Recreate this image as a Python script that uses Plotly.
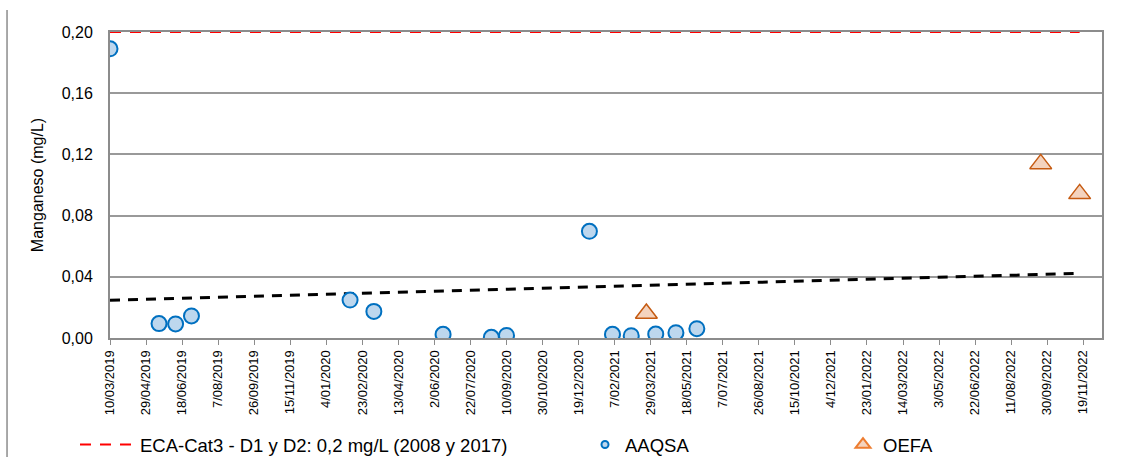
import numpy as np
import pandas as pd
import plotly.graph_objects as go

# ---- data ----
aaqsa_dates = ["2019-03-10", "2019-05-17", "2019-06-09", "2019-07-01", "2020-02-06",
               "2020-03-10", "2020-06-14", "2020-08-20", "2020-09-10", "2021-01-03",
               "2021-02-04", "2021-03-02", "2021-04-05", "2021-05-03", "2021-06-01"]
aaqsa_values = [0.189, 0.0094, 0.0092, 0.0144, 0.0248,
                0.0174, 0.0024, 0.0005, 0.0017, 0.0697,
                0.0024, 0.0015, 0.0026, 0.0035, 0.0061]

oefa_dates = ["2021-03-23", "2022-09-21", "2022-11-14"]
oefa_values = [0.016, 0.1138, 0.0942]

eca_limit = 0.2
eca_name = "ECA-Cat3 - D1 y D2: 0,2 mg/L (2008 y 2017)"

tick_labels = ["10/03/2019", "29/04/2019", "18/06/2019", "7/08/2019", "26/09/2019",
               "15/11/2019", "4/01/2020", "23/02/2020", "13/04/2020", "2/06/2020",
               "22/07/2020", "10/09/2020", "30/10/2020", "19/12/2020", "7/02/2021",
               "29/03/2021", "18/05/2021", "7/07/2021", "26/08/2021", "15/10/2021",
               "4/12/2021", "23/01/2022", "14/03/2022", "3/05/2022", "22/06/2022",
               "11/08/2022", "30/09/2022", "19/11/2022"]
x_range = ["2019-03-10", "2022-12-15"]
y_ticks = [0.00, 0.04, 0.08, 0.12, 0.16, 0.20]

# ---- derived ----
tick_vals = pd.to_datetime(tick_labels, format="%d/%m/%Y")
a_dt = pd.to_datetime(aaqsa_dates)
o_dt = pd.to_datetime(oefa_dates)
all_dt = a_dt.append(o_dt)
all_v = np.array(aaqsa_values + oefa_values)
t0 = all_dt.min()
days = np.array((all_dt - t0).days, dtype=float)
slope, intercept = np.polyfit(days, all_v, 1)
trend_x = [all_dt.min(), all_dt.max()]
trend_y = [intercept + slope * (d - t0).days for d in trend_x]

FONT = "Liberation Sans, Arial, sans-serif"
BLUE_FILL = "#BDD7EE"
BLUE_LINE = "#0070C0"
OR_FILL = "#F4D3BE"
OR_LINE = "#C55A11"
GRID = "#999999"

fig = go.Figure()

fig.add_trace(go.Scatter(
    x=trend_x, y=trend_y, mode="lines",
    line=dict(color="black", width=3, dash="10px,8px"),
    showlegend=False, hoverinfo="skip"))

fig.add_trace(go.Scatter(
    x=[all_dt.min(), all_dt.max()], y=[eca_limit, eca_limit], mode="lines",
    name=eca_name, line=dict(color="#FF0000", width=2, dash="11px,9px"),
    showlegend=True, legend="legend"))

fig.add_trace(go.Scatter(
    x=a_dt, y=aaqsa_values, mode="markers", name="AAQSA",
    marker=dict(symbol="circle", size=15, color=BLUE_FILL,
                line=dict(color=BLUE_LINE, width=2)),
    showlegend=False, legendgroup="a"))
fig.add_trace(go.Scatter(
    x=[None], y=[None], mode="markers", name="AAQSA",
    marker=dict(symbol="circle", size=7, color=BLUE_FILL,
                line=dict(color=BLUE_LINE, width=2)),
    showlegend=True, legendgroup="a", legend="legend2"))

fig.add_trace(go.Scatter(
    x=o_dt, y=oefa_values, mode="markers", name="OEFA",
    marker=dict(symbol="triangle-up", size=19, color=OR_FILL,
                line=dict(color=OR_LINE, width=1.5)),
    showlegend=False, legendgroup="o"))
fig.add_trace(go.Scatter(
    x=[None], y=[None], mode="markers", name="OEFA",
    marker=dict(symbol="triangle-up", size=13, color=OR_FILL,
                line=dict(color="#ED7D31", width=2)),
    showlegend=True, legendgroup="o", legend="legend3"))

leg_common = dict(orientation="h", xref="container", yref="container",
                  xanchor="left", y=(457 - 445) / 457, yanchor="middle",
                  font=dict(size=18.5), bgcolor="rgba(0,0,0,0)")

fig.update_layout(
    width=1131, height=457, autosize=False,
    margin=dict(l=110, r=29, t=32, b=119),
    paper_bgcolor="white", plot_bgcolor="white",
    separators=",.",
    font=dict(family=FONT, color="black", size=15),
    xaxis=dict(
        type="date", range=x_range, automargin=False,
        tickvals=tick_vals, ticktext=tick_labels, tickangle=-90,
        tickfont=dict(size=13),
        showgrid=False, zeroline=False,
        showline=True, linecolor="#8C8C8C", linewidth=2,
        ticks="outside", ticklen=5, tickwidth=1, tickcolor="#8C8C8C",
        mirror=True),
    yaxis=dict(
        range=[0, 0.2], tickvals=y_ticks, tickformat=".2f", automargin=False,
        tickfont=dict(size=16), ticklabelstandoff=12,
        showgrid=True, gridcolor=GRID, gridwidth=2, zeroline=False,
        showline=True, linecolor="#8C8C8C", linewidth=2, mirror=True,
        title=dict(text="Manganeso (mg/L)", font=dict(size=16), standoff=14)),
    legend=dict(leg_common, x=75 / 1131, itemwidth=55),
    legend2=dict(leg_common, x=585 / 1131),
    legend3=dict(leg_common, x=843 / 1131),
    shapes=[dict(type="line", xref="paper", yref="paper",
                 x0=-0.1038, x1=-0.1038, y0=-0.4, y1=1.072,
                 line=dict(color="#8C8C8C", width=1.5))],
)

fig.write_html("out.html", config={"displayModeBar": False},
               post_script="document.body.style.margin='0';document.body.style.overflow='hidden';")
